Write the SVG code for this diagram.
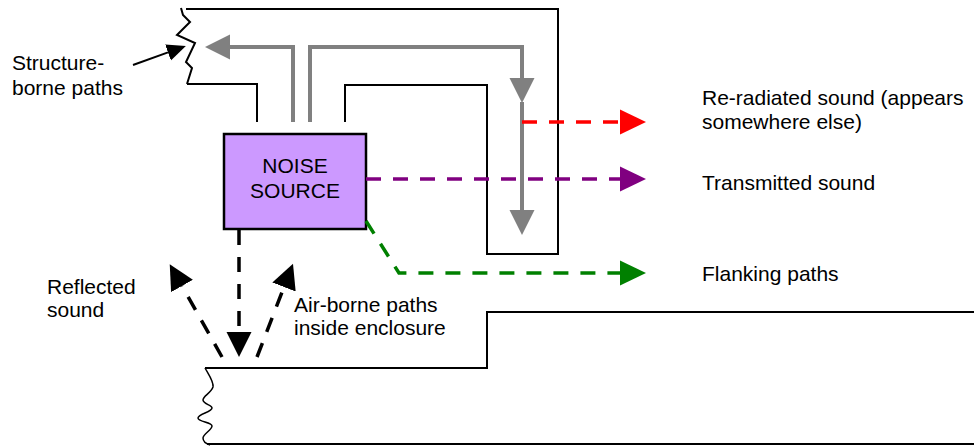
<svg xmlns="http://www.w3.org/2000/svg" width="974" height="447" viewBox="0 0 974 447">
  <style>
    .wall { fill: none; stroke: #000; stroke-width: 2; stroke-linejoin: miter; }
    .rough { fill: none; stroke: #000; stroke-width: 1.5; stroke-linejoin: round; }
    .gray { fill: none; stroke: #808080; stroke-width: 4; }
    .dash { fill: none; stroke-width: 3.5; stroke-dasharray: 15 12; }
    .lbl { font-family: "Liberation Sans", Arial, sans-serif; font-size: 21px; fill: #000; }
  </style>
  <defs>
    <marker id="hGray" viewBox="0 -13 26 26" refX="0" refY="0" markerWidth="26" markerHeight="26" markerUnits="userSpaceOnUse" orient="auto">
      <path d="M0,-12.5 L25,0 L0,12.5 z" fill="#808080"/>
    </marker>
    <marker id="hRed" viewBox="0 -13 27 26" refX="0" refY="0" markerWidth="27" markerHeight="26" markerUnits="userSpaceOnUse" orient="auto">
      <path d="M0,-12.5 L26,0 L0,12.5 z" fill="#FF0000"/>
    </marker>
    <marker id="hPurple" viewBox="0 -13 27 26" refX="0" refY="0" markerWidth="27" markerHeight="26" markerUnits="userSpaceOnUse" orient="auto">
      <path d="M0,-12.5 L26,0 L0,12.5 z" fill="#800080"/>
    </marker>
    <marker id="hGreen" viewBox="0 -13 27 26" refX="0" refY="0" markerWidth="27" markerHeight="26" markerUnits="userSpaceOnUse" orient="auto">
      <path d="M0,-12.5 L26,0 L0,12.5 z" fill="#008000"/>
    </marker>
    <marker id="hBlack" viewBox="0 -13 26 26" refX="0" refY="0" markerWidth="26" markerHeight="26" markerUnits="userSpaceOnUse" orient="auto">
      <path d="M0,-12.5 L25,0 L0,12.5 z" fill="#000"/>
    </marker>
    <marker id="hSmall" viewBox="0 -9 20 18" refX="0" refY="0" markerWidth="20" markerHeight="18" markerUnits="userSpaceOnUse" orient="auto">
      <path d="M0,-8.5 L19,0 L0,8.5 z" fill="#000"/>
    </marker>
  </defs>

  <!-- upper enclosure wall -->
  <g id="upper-wall">
    <path class="wall" d="M186,9 H558 V254 H487 V85 H345 V122"/>
    <path class="wall" d="M187,84 H257 V122"/>
    <polyline class="wall" points="181,8 183,15 190,22 177,35 195,43 186,62 192,68 187,84"/>
  </g>

  <!-- lower enclosure wall -->
  <g id="lower-wall">
    <path class="wall" d="M205,368 H487 V312 H974"/>
    <path class="wall" d="M207,444 H974"/>
    <path class="rough" d="M205,368 C209,375 214,382 213,387 C211,393 203,396 203,400 C203,404 212,405 212,408 C212,412 198,414 198,418 C198,422 212,422 212,426 C212,430 203,434 203,438 C203,442 207,444 210,445"/>
  </g>

  <!-- noise source -->
  <g id="noise-source">
    <rect x="224" y="134" width="142" height="95" fill="#CC99FF" stroke="#000" stroke-width="2.5"/>
    <text class="lbl" x="295" y="173" text-anchor="middle">NOISE</text>
    <text class="lbl" x="295" y="198" text-anchor="middle">SOURCE</text>
  </g>

  <!-- sound paths -->
  <g id="connectors">
    <!-- structure-borne (grey, solid) -->
    <path class="gray" d="M293,122 V47 H230" marker-end="url(#hGray)"/>
    <path class="gray" d="M310,122 V47 H522 V78" marker-end="url(#hGray)"/>
    <path class="gray" d="M522,102 V210" marker-end="url(#hGray)"/>

    <!-- re-radiated, transmitted, flanking -->
    <path class="dash" stroke="#FF0000" d="M522,122 H620" marker-end="url(#hRed)"/>
    <path class="dash" stroke="#800080" d="M366,179 H620" marker-end="url(#hPurple)"/>
    <path class="dash" stroke="#008000" d="M366,221 L399,273 H620" marker-end="url(#hGreen)"/>

    <!-- air-borne inside enclosure -->
    <path class="dash" stroke="#000" d="M239,230 V332" marker-end="url(#hBlack)"/>
    <path class="dash" stroke="#000" d="M222,357 L182,286" marker-end="url(#hBlack)"/>
    <path class="dash" stroke="#000" d="M257,357 L284,287" marker-end="url(#hBlack)"/>

    <!-- pointer to wall -->
    <path fill="none" stroke="#000" stroke-width="2" d="M133,65 L168,52.4" marker-end="url(#hSmall)"/>
  </g>

  <!-- labels -->
  <g id="labels">
    <text class="lbl" x="12" y="70">Structure-</text>
    <text class="lbl" x="12" y="95">borne paths</text>
    <text class="lbl" x="47" y="294">Reflected</text>
    <text class="lbl" x="47" y="317">sound</text>
    <text class="lbl" x="294" y="312">Air-borne paths</text>
    <text class="lbl" x="294" y="335">inside enclosure</text>
    <text class="lbl" x="702" y="105">Re-radiated sound (appears</text>
    <text class="lbl" x="702" y="129">somewhere else)</text>
    <text class="lbl" x="702" y="190">Transmitted sound</text>
    <text class="lbl" x="702" y="281">Flanking paths</text>
  </g>
</svg>
